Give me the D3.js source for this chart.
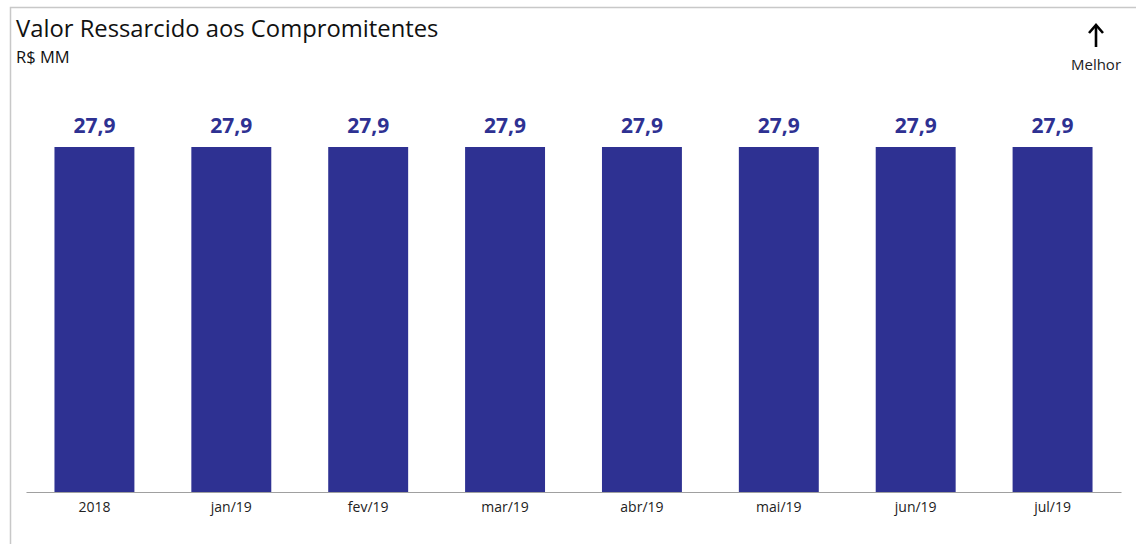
<!DOCTYPE html>
<html><head><meta charset="utf-8">
<script src="https://cdn.jsdelivr.net/npm/d3@7"></script>
<style>body{margin:0;background:#fff}svg{display:block}</style>
</head><body>
<script>
const categories = ["2018","jan/19","fev/19","mar/19","abr/19","mai/19","jun/19","jul/19"];
const values = [27.9,27.9,27.9,27.9,27.9,27.9,27.9,27.9];
const title = "Valor Ressarcido aos Compromitentes";
const subtitle = "R$ MM";

const W=1136,H=544;
const svg=d3.select("body").append("svg").attr("width",W).attr("height",H);
const font="'Open Sans', Lato, sans-serif";
// frame
svg.append("path").attr("d","M10.5,544 V7.5 H1136").attr("fill","none").attr("stroke","#c8c8c8").attr("stroke-width",1.5);

svg.append("text").attr("x",16).attr("y",37).attr("font-family",font).attr("font-size",23.8).attr("fill","#111").text(title);
svg.append("text").attr("x",16).attr("y",63).attr("font-family",font).attr("font-size",16.5).attr("fill","#111").text(subtitle);

// arrow
svg.append("line").attr("x1",1096).attr("x2",1096).attr("y1",47).attr("y2",27).attr("stroke","#000").attr("stroke-width",2.6);
svg.append("path").attr("d","M1089,33 L1096,25 L1103,33").attr("fill","none").attr("stroke","#000").attr("stroke-width",2.6);
svg.append("text").attr("x",1096).attr("y",70).attr("text-anchor","middle").attr("font-family",font).attr("font-size",15).attr("fill","#222").text("Melhor");

const x=d3.scaleBand().domain(categories).range([26,1121]).paddingInner(0.416).paddingOuter(0.208);
const y=d3.scaleLinear().domain([0,d3.max(values)]).range([492,147]);

svg.selectAll("rect.bar").data(values).join("rect").attr("class","bar")
 .attr("x",(d,i)=>x(categories[i])).attr("width",x.bandwidth())
 .attr("y",d=>y(d)).attr("height",d=>y(0)-y(d)).attr("fill","#2E3192");

const fmt=d=>d.toFixed(1).replace(".",",");
svg.selectAll("text.val").data(values).join("text").attr("class","val")
 .attr("x",(d,i)=>x(categories[i])+x.bandwidth()/2).attr("y",d=>y(d)-14)
 .attr("text-anchor","middle").attr("font-family",font).attr("font-weight","bold")
 .attr("font-size",21).attr("fill","#2E3192").text(fmt);

const ax=svg.append("g").attr("transform","translate(0,492)").call(d3.axisBottom(x).tickSize(0).tickPadding(10));
ax.select(".domain").attr("stroke","#a0a0a0").attr("stroke-width",1.2);
ax.selectAll("text").attr("font-family",font).attr("font-size",14).attr("fill","#222");
</script>
</body></html>
